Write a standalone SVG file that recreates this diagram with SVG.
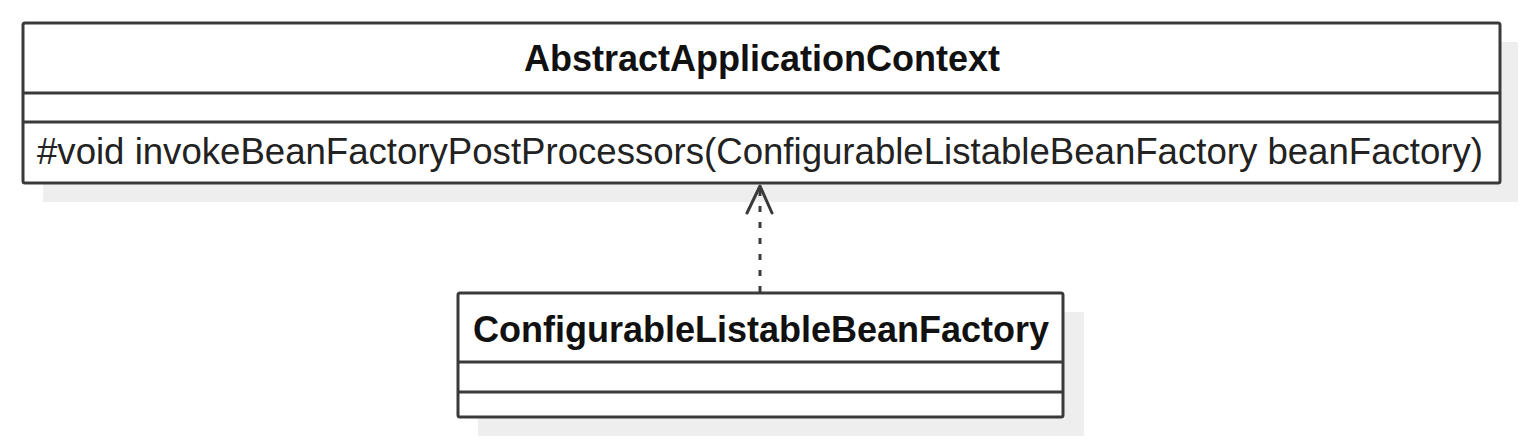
<svg xmlns="http://www.w3.org/2000/svg" width="1520" height="441" viewBox="0 0 1520 441">
<style>
.shadow{fill:#eeeeee;stroke:none}
.box{fill:#ffffff;stroke:#3a3a3a;stroke-width:3}
.div{stroke:#3a3a3a;stroke-width:3;fill:none}
.title{font-family:"Liberation Sans",Arial,sans-serif;font-weight:bold;font-size:36px;fill:#111;text-anchor:middle}
.member{font-family:"Liberation Sans",Arial,sans-serif;font-size:36px;fill:#222}
.dep{stroke:#3a3a3a;stroke-width:3;fill:none;stroke-dasharray:6 10}
.head{stroke:#3a3a3a;stroke-width:3;fill:none;stroke-linecap:round;stroke-linejoin:round}
</style>
<rect width="1520" height="441" fill="#ffffff"/>
<g id="AbstractApplicationContext">
<rect class="shadow" x="43" y="42" width="1475" height="160"/>
<rect class="box" x="23" y="23" width="1477" height="160" rx="2"/>
<line class="div" x1="23" y1="93" x2="1500" y2="93"/>
<line class="div" x1="23" y1="122" x2="1500" y2="122"/>
<text class="title" x="762" y="71">AbstractApplicationContext</text>
<text class="member" x="37" y="164" textLength="1446" lengthAdjust="spacingAndGlyphs">#void invokeBeanFactoryPostProcessors(ConfigurableListableBeanFactory beanFactory)</text>
</g>
<g id="ConfigurableListableBeanFactory">
<rect class="shadow" x="478" y="312" width="606" height="124"/>
<rect class="box" x="458" y="293" width="605" height="124" rx="2"/>
<line class="div" x1="458" y1="362" x2="1063" y2="362"/>
<line class="div" x1="458" y1="392" x2="1063" y2="392"/>
<text class="title" x="761" y="342">ConfigurableListableBeanFactory</text>
</g>
<g id="connectors">
<line class="dep" x1="760" y1="292" x2="760" y2="187"/>
<polyline class="head" points="747,213 760,186 772,213"/>
</g>
</svg>
